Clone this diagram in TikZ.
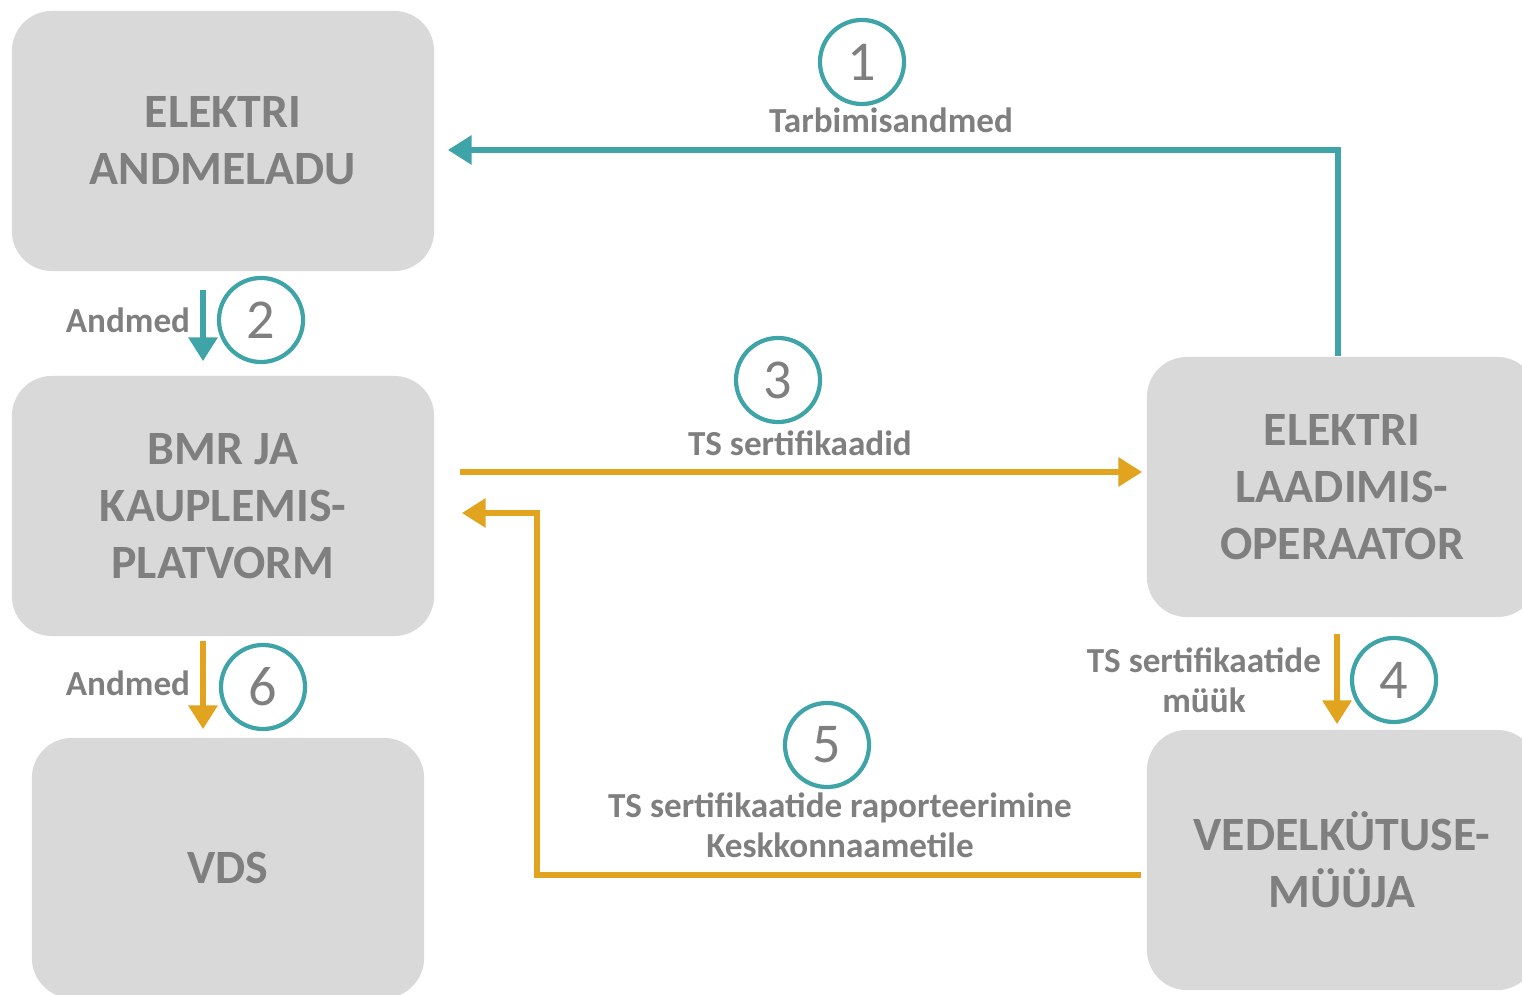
\documentclass[tikz,border=0pt]{standalone}
\usepackage{fontspec}
\setmainfont{Carlito}
\usepackage{xcolor}
\usetikzlibrary{arrows.meta,positioning}
\definecolor{boxgray}{HTML}{D9D9D9}
\definecolor{txtgray}{HTML}{7F7F7F}
\definecolor{tealc}{HTML}{3FA4A8}
\definecolor{goldc}{HTML}{E2A31F}
\tikzset{
  box/.style={fill=boxgray,rounded corners=0.4cm,minimum width=4.22cm,minimum height=2.6cm,
    align=center,text=txtgray,font=\bfseries\fontsize{13.6}{16.3}\selectfont},
  lbl/.style={text=txtgray,align=center,inner sep=0pt,font=\bfseries\fontsize{10}{11.5}\selectfont},
  num/.style={circle,draw=tealc,line width=1.2pt,minimum size=0.84cm,inner sep=0pt,
    text=txtgray,font=\fontsize{16}{16}\selectfont},
  tarr/.style={draw=tealc,line width=1.7pt,-{Triangle[length=6.8pt,width=8pt]}},
  garr/.style={tarr,draw=goldc}
}

\begin{document}
\begin{tikzpicture}[x=0.01cm,y=-0.01cm]
\path[use as bounding box,clip] (0,0) rectangle (1522,995);
\node[box] (ead) at (223,141) {ELEKTRI\\ANDMELADU};
\node[box] (bmr) at (223,506) {BMR JA\\KAUPLEMIS-\\PLATVORM};
\node[box,minimum width=3.92cm] (vds) at (228,868) {VDS};
\node[box,minimum width=3.9cm] (elo) at (1342,487) {ELEKTRI\\LAADIMIS-\\OPERAATOR};
\node[box,minimum width=3.9cm] (vkm) at (1342,860) {VEDELKÜTUSE-\\MÜÜJA};
\draw[tarr] ([shift={(-4,0)}]elo.north) |- ([shift={(13,9)}]ead.east);
\draw[tarr] ([shift={(-20,18)}]ead.south) -- ([shift={(-20,-14)}]bmr.north);
\draw[garr] ([shift={(25,-34)}]bmr.east) -- ([shift={(-4,-15)}]elo.west);
\draw[garr] ([shift={(-5,16)}]elo.south) -- ([shift={(-5,-5)}]vkm.north);
\draw[garr] ([shift={(-5,15)}]vkm.west) -- ++(-604,0) |- ([shift={(27,7)}]bmr.east);
\draw[garr] ([shift={(-20,4)}]bmr.south) -- ([shift={(-25,-8)}]vds.north);
\node[lbl] (l1) at (891,120) {Tarbimisandmed};
\node[lbl] (l2) at (128,320) {Andmed};
\node[lbl] (l3) at (800,443) {TS sertifikaadid};
\node[lbl] (l4) at (1204,680) {TS sertifikaatide\\müük};
\node[lbl] (l5) at (840,825) {TS sertifikaatide raporteerimine\\Keskkonnaametile};
\node[lbl] (l6) at (128,683) {Andmed};
\node[num] (n1) at (862,62) {1};
\node[num] (n2) at (261,320) {2};
\node[num] (n3) at (778,380) {3};
\node[num] (n4) at (1394,680) {4};
\node[num] (n5) at (827,745) {5};
\node[num] (n6) at (263,687) {6};
\end{tikzpicture}
\end{document}
